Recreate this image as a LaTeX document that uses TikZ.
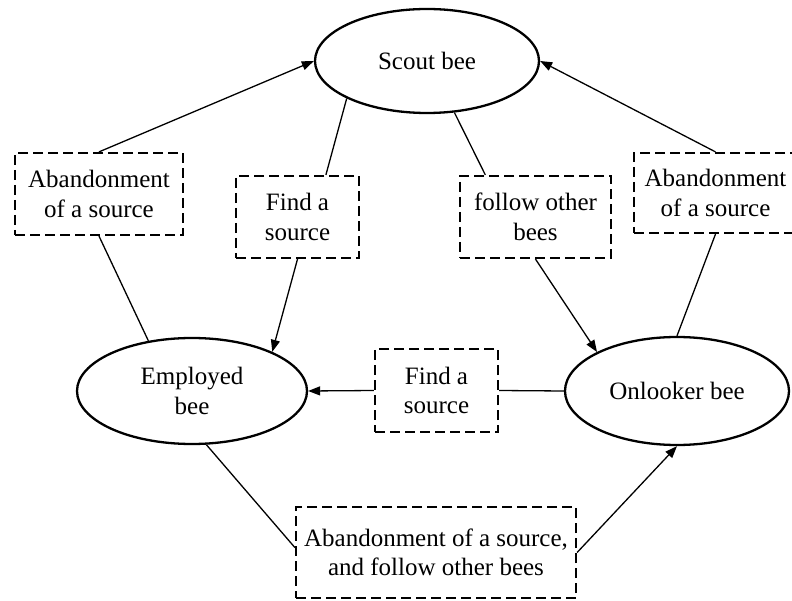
\documentclass[tikz,border=0pt]{standalone}
\usepackage{fontspec}
\setmainfont{Liberation Serif}
\usetikzlibrary{arrows.meta,shapes.geometric}
\begin{document}
\begin{tikzpicture}[x=1pt,y=-1pt,
  every node/.style={font=\fontsize{25}{29.5}\selectfont},
  bee/.style={draw,ellipse,line width=2.3pt,inner sep=0pt,align=center},
  act/.style={draw,rectangle,dash pattern=on 10pt off 5pt,line width=2.2pt,inner sep=0pt,align=center},
  link/.style={line width=1.3pt},
  arr/.style={link,-{Triangle[length=12pt,width=9pt]}}]
\useasboundingbox (0,0) rectangle (792,601);
\clip (0,0) rectangle (792,601);
\node[bee,minimum width=224pt,minimum height=104pt] (S) at (427,61) {Scout bee};
\node[bee,minimum width=230pt,minimum height=106pt] (E) at (192,391) {Employed\\bee};
\node[bee,minimum width=224pt,minimum height=108pt] (O) at (677,391) {Onlooker bee};
\node[act,minimum width=168pt,minimum height=82pt] (labL) at (99,194) {Abandonment\\of a source};
\node[act,minimum width=123pt,minimum height=82pt] (findL) at (297.5,217) {Find a\\source};
\node[act,minimum width=151pt,minimum height=82pt] (fol) at (535.5,217) {follow other\\bees};
\node[act,minimum width=163pt,minimum height=80pt] (labR) at (715.5,193) {Abandonment\\of a source};
\node[act,minimum width=123pt,minimum height=83pt] (mid) at (436.5,390.5) {Find a\\source};
\node[act,minimum width=280pt,minimum height=91pt] (bot) at (436,552.5) {Abandonment of a source,\\and follow other bees};
\draw[arr] (labL.north) -- (S.west);
\draw[link] (S.205) -- (findL.56);
\draw[arr] (findL.south) -- (E.26);
\draw[link] (labL.south) -- (E.131);
\draw[link] (S.298) -- (fol.140);
\draw[arr] (fol.south) -- (O.154);
\draw[arr] (labR.north) -- (S.east);
\draw[link] (labR.south) -- (O.north);
\draw[arr] (mid.west) -- (E.east);
\draw[link] (O.west) -- (mid.east);
\draw[link] (E.285) -- (bot.178);
\draw[arr] (bot.east) -- (O.south);
\end{tikzpicture}
\end{document}
